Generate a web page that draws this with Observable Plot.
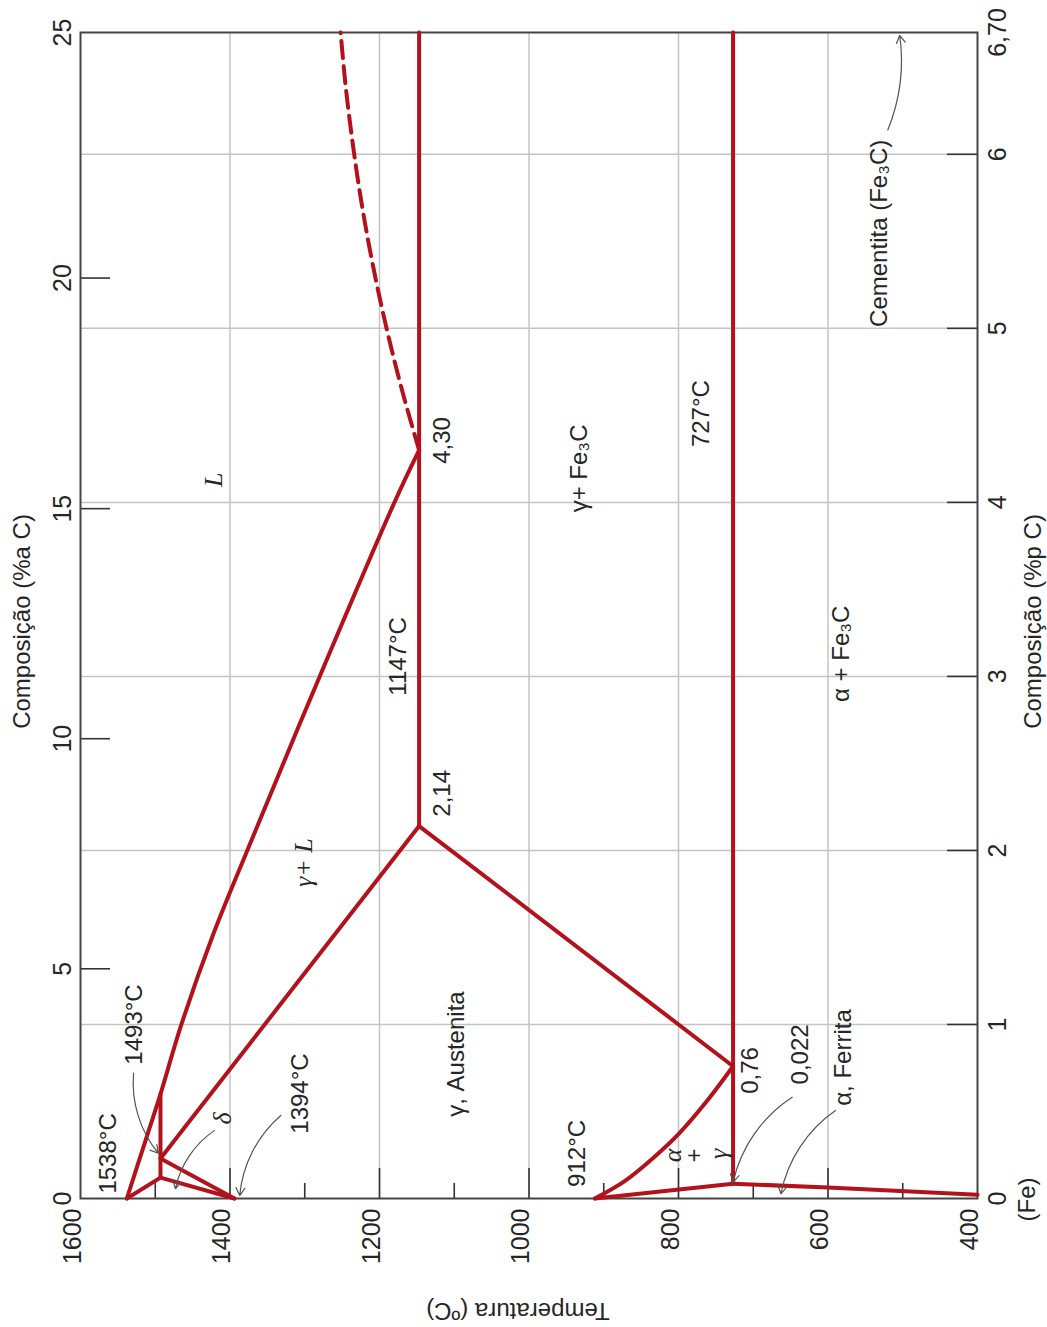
<!DOCTYPE html>
<html><head><meta charset="utf-8">
<script src="https://cdn.jsdelivr.net/npm/d3@7"></script>
<script src="https://cdn.jsdelivr.net/npm/@observablehq/plot@0.6"></script>
<style>
html,body{margin:0;padding:0;background:#fff;}
#chart svg{display:block;}
</style>
</head><body><div id="chart"></div>
<script>
// ---------- axis data ----------
const tempTicksMajor = [1600, 1400, 1200, 1000, 800, 600, 400];
const tempTicksMinor = [1500, 1300, 1100, 900, 700, 500];
const tempGrid = [1400, 1200, 1000, 800, 600];
const wtTicks = [0, 1, 2, 3, 4, 5, 6, 6.70];
const wtTickLabels = ["0", "1", "2", "3", "4", "5", "6", "6,70"];
const wtGrid = [1, 2, 3, 4, 5, 6];
const atTicks = [0, 5, 10, 15, 20, 25];
const atTickWt = [0, 1.320, 2.642, 3.964, 5.289, 6.70]; // where the at% ticks sit on the wt% scale

// ---------- phase boundaries: [temperature °C, wt% C] ----------
const liquidus = [[1538, 0], [1523, 0.2], [1508, 0.4], [1493, 0.60], [1465, 1.0], [1424, 1.5], [1373, 2.04], [1280, 3.0], [1180, 4.0], [1147, 4.30]];
const liquidusFe3C = [[1147, 4.30], [1167, 4.60], [1185, 4.90], [1201, 5.20], [1215, 5.50], [1227, 5.80], [1237, 6.10], [1245.5, 6.40], [1252, 6.70]];
const deltaSolidus = [[1538, 0], [1493, 0.12]];
const peritectic = [[1493, 0.12], [1493, 0.60]];
const deltaSolvus = [[1493, 0.12], [1394, 0]];
const gammaDeltaBoundary = [[1493, 0.23], [1394, 0]];
const gammaSolidus = [[1493, 0.23], [1147, 2.14]];
const eutectic = [[1147, 2.14], [1147, 6.70]];
const acm = [[1147, 2.14], [727, 0.76]];
const a3 = [[912, 0], [872, 0.10], [832, 0.24], [800, 0.37], [762, 0.56], [727, 0.76]];
const alphaGammaBoundary = [[912, 0], [727, 0.085]];
const eutectoid = [[727, 0.085], [727, 6.70]];
const alphaSolvus = [[727, 0.085], [600, 0.063], [400, 0.022]];
const straightLines = [deltaSolidus, peritectic, deltaSolvus, gammaDeltaBoundary, gammaSolidus, eutectic, acm, alphaGammaBoundary, eutectoid, alphaSolvus];
const curvedLines = [liquidus, a3];

// ---------- annotations ----------
const sansLabels = ["1538°C", "1493°C", "1394°C", "1147°C", "4,30", "2,14", "γ+ Fe₃C", "727°C", "α + Fe₃C", "912°C", "0,76", "0,022", "α, Ferrita", "Cementita (Fe₃C)", "γ, Austenita", "+"];
const sansLabelT = [1563, 1528.6, 1305.6, 1174.5, 1116, 1116, 932.3, 769, 581.7, 935.4, 703.4, 636.5, 579, 530.8, 1097, 779.3];
const sansLabelW = [0.259, 1.0, 0.603, 3.115, 4.356, 2.328, 4.195, 4.51, 3.13, 0.259, 0.736, 0.828, 0.81, 5.546, 0.83, 0.247];
const greekLabels = ["δ", "L", "γ+ L", "α", "γ"];
const greekLabelT = [1410, 1422, 1301.6, 808.3, 745.9];
const greekLabelW = [0.46, 4.13, 1.93, 0.247, 0.257];
// arrows: [T start, wt start, T end, wt end, bend]
const arrows = [
  [1529, 0.72, 1496, 0.26, -22],
  [1421, 0.39, 1473, 0.056, -22],
  [1332, 0.477, 1387, 0.017, -22],
  [648, 0.582, 727, 0.094, -22],
  [590, 0.506, 663, 0.027, -22],
  [520, 6.14, 504, 6.684, -15]
];

// ---------- build ----------
const W = 1047, H = 1327;
const mL = 80, mR = 70, mT = 32, mB = 129;
const plotW = W - mL - mR, plotH = H - mT - mB;
const red = "#b3121c";
const ink = "#262626";
const sans = "'Liberation Sans', Arial, sans-serif";
const serif = "'Liberation Serif', 'DejaVu Serif', serif";

const toRows = (arr) => arr.map(([t, w]) => ({t, w}));

const marks = [
  Plot.ruleX(tempGrid, {x: d => d, stroke: "#c4c4c4", strokeWidth: 1.5}),
  Plot.ruleY(wtGrid, {y: d => d, stroke: "#c4c4c4", strokeWidth: 1.5}),
  // ticks (inward)
  Plot.ruleX(tempGrid, {x: d => d, insetTop: plotH - 30, stroke: "#333", strokeWidth: 1.6}),
  Plot.ruleX(tempTicksMinor, {x: d => d, insetTop: plotH - 15, stroke: "#333", strokeWidth: 1.6}),
  Plot.ruleY(wtGrid, {y: d => d, insetLeft: plotW - 30, stroke: "#333", strokeWidth: 1.6}),
  Plot.ruleY(atTickWt.slice(1, 5), {y: d => d, insetRight: plotW - 30, stroke: "#333", strokeWidth: 1.6}),
  Plot.frame({stroke: "#444", strokeWidth: 2}),
  // phase boundaries
  ...straightLines.map(seg => Plot.line(toRows(seg), {x: "t", y: "w", stroke: red, strokeWidth: 4, strokeLinejoin: "round", strokeLinecap: "round"})),
  ...curvedLines.map(seg => Plot.line(toRows(seg), {x: "t", y: "w", stroke: red, strokeWidth: 4, strokeLinecap: "round", curve: "catmull-rom"})),
  Plot.line(toRows(liquidusFe3C), {x: "t", y: "w", stroke: red, strokeWidth: 4, strokeDasharray: "17,8", curve: "catmull-rom"}),
  // arrows
  ...arrows.map(a => Plot.arrow([a], {x1: d => d[0], y1: d => d[1], x2: d => d[2], y2: d => d[3], bend: a[4], stroke: "#555", strokeWidth: 1.2, headLength: 11})),
  // tick labels
  Plot.text(tempTicksMajor, {x: d => d, text: d => String(d), frameAnchor: "bottom", dy: 10, rotate: -90, textAnchor: "end", fontSize: 25, fill: ink}),
  Plot.text(atTicks, {y: (d, i) => atTickWt[i], text: d => String(d), frameAnchor: "left", dx: -18, rotate: -90, textAnchor: "middle", fontSize: 25, fill: ink}),
  Plot.text(wtTicks, {y: d => d, text: (d, i) => wtTickLabels[i], frameAnchor: "right", dx: 20, rotate: -90, textAnchor: "middle", fontSize: 25, fill: ink}),
  // axis titles
  Plot.text(["Temperatura (ºC)"], {text: d => d, frameAnchor: "bottom", dx: -11, dy: 104, rotate: 180, textAnchor: "middle", fontSize: 24, fill: ink}),
  Plot.text(["Composição (%a C)"], {text: d => d, frameAnchor: "left", dx: -58, dy: 6, rotate: -90, textAnchor: "middle", fontSize: 24, fill: ink}),
  Plot.text(["Composição (%p C)"], {text: d => d, frameAnchor: "right", dx: 56, dy: 6, rotate: -90, textAnchor: "middle", fontSize: 24, fill: ink}),
  Plot.text(["(Fe)"], {text: d => d, frameAnchor: "bottom-right", dx: 57, dy: 1, rotate: -90, textAnchor: "middle", fontSize: 24, fill: ink}),
  // region / point labels
  Plot.text(sansLabels, {x: (d, i) => sansLabelT[i], y: (d, i) => sansLabelW[i], text: d => d, rotate: -90, fontSize: 24, fill: ink}),
  Plot.text(greekLabels, {x: (d, i) => greekLabelT[i], y: (d, i) => greekLabelW[i], text: d => d, rotate: -90, fontSize: 26, fontStyle: "italic", fontFamily: serif, fill: ink})
];

const chart = Plot.plot({
  width: W, height: H,
  marginLeft: mL, marginRight: mR, marginTop: mT, marginBottom: mB,
  x: {domain: [1600, 400], axis: null},
  y: {domain: [0, 6.70], axis: null},
  style: {fontFamily: sans, background: "#fff", color: ink},
  marks
});
document.getElementById("chart").appendChild(chart);
</script>
</body></html>
